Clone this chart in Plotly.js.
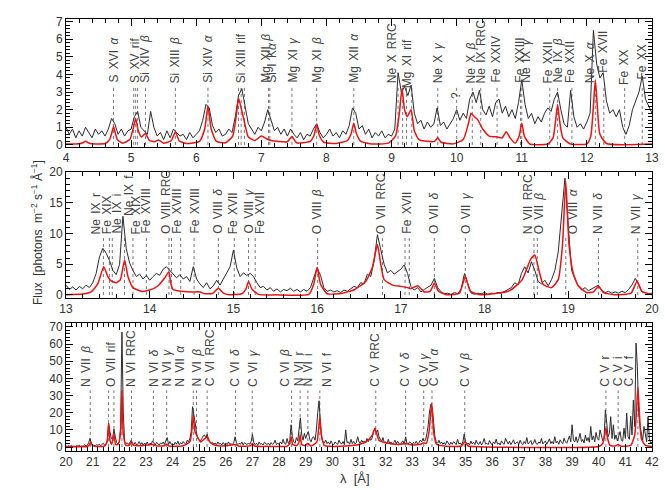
<!DOCTYPE html>
<html><head><meta charset="utf-8">
<script src="https://cdn.plot.ly/plotly-3.0.1.min.js"></script>
<style>html,body{margin:0;padding:0;background:#fff}#chart{width:665px;height:490px}</style>
</head><body><div id="chart"></div>
<script>
// ---------------- DATA ----------------
// Observed flux, panel 1: wavelength grid 4.00..13.00 step 0.05 Å
const p1Start = 4.0, p1Step = 0.05;
const p1Flux = [
 1.0,0.6,0.9,0.4,0.8,0.5,1.0,0.7,0.4,0.9,
 0.6,0.8,0.5,0.9,1.5,1.2,0.6,0.9,0.5,0.8,
 0.9,1.6,1.9,1.0,0.8,0.6,1.9,1.0,0.5,0.7,
 0.3,0.8,0.4,0.9,0.7,0.5,0.6,0.3,0.7,0.4,
 0.6,0.8,1.4,2.3,2.1,1.1,0.7,0.9,0.5,0.6,
 0.9,0.7,1.6,2.8,3.2,2.2,1.2,0.9,0.6,1.0,
 0.8,1.3,2.0,1.4,0.8,1.0,0.6,0.9,0.5,0.9,
 0.6,0.4,0.7,0.3,0.6,0.5,0.9,1.2,0.7,0.4,
 0.6,0.9,0.5,0.7,0.4,0.8,0.6,1.1,2.1,1.8,
 0.9,1.1,0.6,0.9,0.4,0.7,0.5,0.8,0.4,0.6,
 0.5,0.9,4.1,3.0,3.3,2.8,3.4,1.8,1.2,1.4,
 0.9,1.3,1.0,1.2,2.1,1.1,1.3,0.9,1.2,1.5,
 2.0,1.4,1.8,1.5,2.6,3.0,2.4,3.1,2.0,1.7,
 2.2,1.6,2.4,2.6,1.8,2.2,1.6,2.0,1.5,2.4,
 3.7,2.3,1.5,1.8,1.2,1.6,1.3,1.8,2.1,1.9,
 2.6,3.0,2.0,1.2,1.0,3.1,1.6,1.0,1.2,0.9,
 1.3,1.8,6.5,4.6,3.8,4.1,2.5,1.8,2.0,1.6,
 2.0,1.0,0.6,1.1,2.0,2.5,3.0,3.9,2.6,2.2,
 1.8];
// Observed flux, panel 2: grid 13.00..20.00 step 0.04 Å
const p2Start = 13.0, p2Step = 0.04;
const p2Flux = [
 1.6,0.9,1.3,0.8,1.4,1.0,1.6,1.2,2.0,3.5,
 6.2,7.6,6.8,5.6,4.0,3.3,5.0,12.8,7.5,5.2,
 4.0,3.0,3.4,2.6,3.2,2.4,3.0,3.5,3.2,4.2,
 4.6,4.0,3.4,2.8,3.3,2.6,3.0,2.2,4.6,2.6,
 1.8,1.2,2.0,1.0,1.5,2.4,1.6,2.5,3.6,4.6,
 7.3,4.4,3.0,3.6,3.2,3.5,3.0,2.0,1.2,1.4,
 0.8,1.2,0.6,1.0,0.5,0.9,0.7,1.1,0.6,0.9,
 0.5,0.9,0.6,1.2,3.0,4.4,3.2,1.2,0.6,0.8,
 0.5,0.7,0.4,0.8,0.6,1.0,1.4,1.2,2.0,1.8,
 3.4,3.0,5.5,9.8,7.6,5.0,3.6,4.0,3.4,3.8,
 4.2,4.9,3.5,1.4,0.8,1.2,0.5,0.9,1.2,1.6,
 2.7,1.2,0.5,0.2,0.3,0.1,0.4,0.2,1.0,3.5,
 1.8,0.3,0.1,0.3,0.2,0.4,0.1,0.3,0.2,0.4,
 0.3,0.6,0.8,1.2,2.0,1.6,3.5,4.6,3.6,5.4,
 4.0,2.2,1.8,2.4,1.5,2.5,4.0,7.0,13.0,19.0,
 11.0,4.0,2.6,1.4,0.8,1.2,0.7,1.0,1.4,1.6,
 0.8,0.4,0.6,0.3,0.5,0.3,0.6,0.4,0.9,1.6,
 2.7,1.8,0.5,0.3,0.2,
 0.3];
// Observed flux, panel 3: grid 20.00..42.00 step 0.05 Å
const p3Start = 20.0, p3Step = 0.05;
const p3Flux = [
 0.5,0.2,0.8,0.3,1.0,0.4,0.6,0.2,0.9,0.5,1.2,0.3,0.7,0.4,1.5,0.6,1.0,2.5,5.0,2.0,
 0.8,1.2,0.6,1.5,0.9,1.8,0.7,1.4,2.2,1.1,1.6,3.0,14.0,9.0,5.0,4.5,10.5,6.0,2.5,1.8,
 3.0,12.0,67.0,20.0,3.0,2.0,2.5,1.5,3.0,4.0,2.2,1.5,2.8,1.2,2.0,3.2,1.4,2.6,1.0,2.4,
 1.6,3.0,1.2,2.2,1.8,3.6,2.5,1.0,2.8,1.6,1.2,2.4,1.8,3.0,1.4,4.0,5.5,1.5,3.2,1.6,
 2.0,1.2,2.8,1.6,3.4,1.4,2.6,1.8,3.2,2.2,1.6,4.0,3.0,5.0,9.0,23.5,17.0,14.0,8.0,5.0,
 4.0,3.5,5.0,6.5,7.0,5.5,7.5,4.0,3.0,2.2,2.8,1.6,2.4,1.4,3.0,1.8,2.2,1.2,2.6,1.5,
 2.4,1.4,3.0,1.6,2.0,1.2,2.8,6.0,2.4,1.4,2.2,1.6,3.0,1.2,2.6,1.8,1.4,2.4,1.6,3.2,
 7.4,2.6,1.4,2.2,1.0,3.0,1.6,2.0,1.2,2.8,1.8,1.4,2.4,1.0,2.6,1.6,2.0,4.0,1.4,2.2,
 1.6,3.0,1.8,4.5,2.2,1.6,5.0,2.0,3.5,13.0,6.0,3.0,2.2,5.5,3.6,9.0,17.0,7.0,4.0,8.0,
 5.0,7.5,9.0,4.5,3.0,5.5,6.0,4.0,10.0,20.0,27.0,14.0,5.0,3.0,2.5,4.0,2.0,3.0,1.6,3.6,
 2.0,1.4,3.0,2.2,1.6,4.0,2.4,1.8,3.2,1.4,10.0,2.6,3.0,1.6,4.5,2.0,3.4,1.8,2.6,6.0,
 3.0,2.2,4.0,2.8,3.6,2.4,5.0,3.2,4.6,4.0,5.6,9.0,11.0,8.0,10.0,6.0,4.0,3.0,5.5,2.4,
 3.0,1.8,4.5,2.2,3.0,1.6,2.6,4.0,1.8,3.4,2.0,1.4,2.8,3.6,1.6,6.0,2.2,1.8,3.0,2.4,
 1.6,2.8,2.0,3.4,1.8,2.6,4.0,3.0,5.0,3.5,4.0,8.0,13.0,21.0,25.0,23.0,13.0,6.0,3.0,2.2,
 4.0,2.0,3.0,1.6,2.6,1.4,3.6,2.0,1.2,2.8,1.6,3.2,2.0,1.4,4.5,1.8,2.4,1.2,3.0,7.6,
 3.0,1.6,2.4,1.2,3.5,1.8,2.8,1.4,4.0,2.0,1.6,3.2,1.2,2.6,5.0,1.8,2.2,1.4,3.8,2.0,
 1.4,3.0,2.0,4.6,1.6,2.4,1.2,3.6,2.2,1.6,5.0,2.8,1.8,3.4,1.4,2.6,4.2,1.8,2.4,3.0,
 1.6,4.0,2.2,1.4,3.2,2.0,5.5,1.8,2.6,3.8,1.4,2.4,4.4,2.0,1.6,3.0,2.2,5.0,1.8,2.6,
 3.6,1.6,2.8,4.8,2.0,3.2,1.8,6.0,2.4,3.4,1.6,4.2,2.8,2.0,5.2,3.0,2.2,4.0,6.5,3.0,
 13.0,4.0,3.0,6.0,2.6,5.0,8.0,3.2,4.4,2.4,7.0,3.6,5.5,2.8,12.0,4.2,6.5,3.0,8.5,5.0,
 4.0,10.0,6.0,3.6,5.0,21.6,14.0,6.0,8.0,17.7,5.0,13.0,4.5,7.0,3.6,6.0,9.0,4.0,3.4,11.0,
 5.0,19.8,6.0,4.5,18.0,7.0,27.4,12.0,60.6,46.9,20.0,12.0,7.0,4.0,12.0,6.0,3.0,17.7,5.0,2.0,
 3.0];

// Model (red) – wavelength / flux pairs
const p1ModelWave = [4.0,4.2,4.26,4.3,4.34,4.4,4.6,4.67,4.705,4.73,4.755,4.79,4.87,4.98,5.03,5.07,5.11,5.16,5.22,5.28,5.36,5.42,5.5,5.62,5.68,5.74,5.85,6.05,6.13,6.18,6.23,6.31,6.45,6.56,6.62,6.65,6.69,6.74,6.8,6.9,7.0,7.08,7.15,7.25,7.4,7.47,7.54,7.75,7.81,7.85,7.89,7.96,8.15,8.32,8.38,8.42,8.46,8.53,8.7,8.95,9.06,9.12,9.16,9.2,9.24,9.3,9.35,9.42,9.55,9.66,9.71,9.76,9.95,10.1,10.18,10.22,10.27,10.32,10.4,10.5,10.62,10.7,10.76,10.82,10.9,10.96,11.0,11.04,11.12,11.4,11.48,11.52,11.55,11.58,11.63,11.75,12.0,12.06,12.1,12.13,12.16,12.2,12.3,13.0];
const p1Model =     [0.05,0.06,0.12,0.2,0.12,0.06,0.08,0.3,0.7,1.05,0.7,0.3,0.1,0.3,0.9,1.5,0.8,0.45,0.65,0.25,0.18,0.28,0.1,0.25,0.75,0.22,0.08,0.2,0.9,2.2,0.9,0.2,0.12,0.5,1.8,2.65,2.1,1.3,0.45,0.25,0.5,0.35,0.25,0.2,0.18,0.47,0.12,0.2,0.55,1.14,0.55,0.15,0.08,0.25,0.65,1.23,0.65,0.2,0.05,0.1,0.5,1.8,3.2,2.0,1.6,2.0,0.8,0.3,0.2,0.2,0.4,0.15,0.06,0.3,1.2,1.8,1.6,1.45,0.9,0.5,0.45,0.4,0.75,0.4,0.1,0.5,1.23,0.5,0.06,0.05,0.4,1.4,2.3,1.4,0.4,0.05,0.06,0.5,2.2,3.7,2.2,0.6,0.08,0.05];
const p2ModelWave = [13.0,13.2,13.3,13.38,13.45,13.5,13.54,13.6,13.65,13.7,13.74,13.8,13.9,14.0,14.1,14.18,14.23,14.25,14.28,14.35,14.5,14.6,14.66,14.75,14.82,14.88,14.95,15.1,15.15,15.18,15.22,15.3,15.5,15.9,15.96,16.0,16.04,16.12,16.3,16.45,16.58,16.66,16.72,16.76,16.8,16.9,17.0,17.08,17.12,17.2,17.28,17.35,17.4,17.45,17.55,17.7,17.77,17.83,17.95,18.1,18.3,18.45,18.55,18.6,18.65,18.7,18.8,18.88,18.93,18.97,19.01,19.06,19.12,19.22,19.3,19.36,19.42,19.55,19.75,19.82,19.88,20.0];
const p2Model =     [0.05,0.15,0.5,1.8,4.6,3.0,2.3,2.0,2.5,5.7,3.0,1.2,0.6,0.8,1.5,2.8,3.8,2.0,0.9,0.65,0.5,0.5,0.2,0.25,1.1,0.3,0.05,0.2,1.0,2.2,1.0,0.1,0.02,0.1,1.8,4.5,1.8,0.2,0.3,0.9,2.2,4.5,8.2,5.0,2.5,1.6,1.4,1.2,1.05,1.5,0.5,0.6,1.9,0.6,0.05,0.3,3.0,0.6,0.05,0.2,0.7,2.5,5.8,6.5,4.0,1.7,1.2,2.5,8.0,18.5,8.0,3.5,1.5,0.4,0.5,1.4,0.4,0.05,0.3,2.2,0.6,0.05];
const p3ModelWave = [20.0,20.8,20.88,20.93,20.98,21.1,21.45,21.55,21.6,21.65,21.72,21.8,21.86,21.95,22.05,22.1,22.15,22.25,22.38,22.45,22.52,22.8,23.28,23.4,23.7,23.78,23.86,24.4,24.65,24.72,24.78,24.84,24.92,25.05,25.22,25.3,25.4,25.6,26.0,26.36,26.5,26.93,27.0,27.08,27.5,28.3,28.4,28.45,28.51,28.65,28.74,28.79,28.85,28.98,29.08,29.2,29.42,29.48,29.53,29.58,29.7,29.9,30.5,31.0,31.3,31.5,31.6,31.66,31.75,32.0,32.5,32.75,33.0,33.35,33.43,33.52,33.63,33.73,33.8,33.9,34.2,34.85,34.97,35.1,35.5,40.0,40.15,40.22,40.27,40.32,40.42,40.62,40.73,40.84,41.2,41.35,41.42,41.47,41.52,41.6,41.75,42.0];
const p3Model =     [0.3,0.3,1.2,3.1,1.2,0.4,0.6,4.0,13.8,4.0,1.6,8.0,1.5,1.5,8.0,33.0,8.0,1.0,1.0,3.0,1.2,0.8,1.5,0.6,0.8,1.8,0.6,0.8,3.0,9.0,18.7,9.0,6.5,3.0,5.0,6.0,3.0,1.0,0.7,1.5,0.5,0.8,2.1,0.6,0.4,0.5,2.0,6.0,1.5,0.8,2.5,7.0,1.5,0.8,2.1,0.6,3.0,10.0,17.7,8.0,1.0,0.4,0.6,1.5,3.5,7.0,11.0,8.0,4.0,2.5,1.5,2.0,1.2,1.8,2.5,2.0,9.0,25.5,9.0,1.8,0.6,0.6,3.1,0.6,0.2,0.3,2.0,7.0,11.0,6.0,1.0,0.6,1.5,0.5,1.0,7.0,22.0,34.8,22.0,5.0,1.0,0.3];

// Line identifications (rest wavelengths, Å) and their labels
const p1Lines = [4.73,5.04,5.07,5.10,5.22,5.68,6.18,6.65,6.69,6.74,7.11,7.13,7.47,7.85,8.42,9.10,9.17,9.23,9.31,9.71,10.0,10.24,10.37,10.62,10.98,11.0,11.43,11.55,11.77,12.13,12.26,12.58,12.85];
const p1LabelText = ['S XVI α','S XV rif','Si XIV β','Si XIII β','Si XIV α','Si XIII rif','Mg XII β','Si I Kα','Mg XI γ','Mg XI β','Mg XII α','Ne X RRC','Mg XI rif','Ne X γ','?','Ne X β','Ne IX RRC','Fe XXIV','Fe XXIII','Ne IX γ','Fe XXII','Ne IX β','Fe XXII','Ne X α','Fe XVII','Fe XX','Fe XX'];
const p2Lines = [13.447,13.518,13.553,13.699,13.80,13.96,14.23,14.26,14.37,14.53,14.82,15.01,15.18,15.26,16.006,16.78,17.05,17.10,17.40,17.77,18.59,18.63,18.97,19.36,19.83];
const p2LabelText = ['Ne IX r','Fe XIX','Ne IX i','Ne IX f','Fe XIX','Fe XVIII','O VIII RRC','Fe XVIII','Fe XVIII','O VIII δ','Fe XVII','O VIII γ','Fe XVII','O VIII β','O VII RRC','Fe XVII','O VII δ','O VII γ','N VII RRC','O VII β','O VIII α','N VII δ','N VII γ'];
const p3Lines = [20.91,21.60,21.80,22.10,22.46,23.28,23.78,24.78,24.90,25.30,26.36,26.99,28.47,28.79,29.08,29.53,31.63,32.75,33.43,33.74,34.97,40.27,40.73,41.47];
const p3LabelText = ['N VII β','O VII rif','N VI RRC','N VI δ','N VI γ','N VII α','N VI β','C VI RRC','C VI δ','C VI γ','C VI β','N VI r','N VI i','N VI f','C V RRC','C V δ','C V γ','C VI α','C V β','C V r','C V i','C V f'];

// ---------------- LABEL PLACEMENT (layout, not data) ----------------
const p1LabelPos = [4.73,5.05,5.21,5.68,6.17,6.69,7.06,7.15,7.48,7.85,8.42,9.01,9.23,9.71,10.0,10.22,10.38,10.59,10.96,11.06,11.41,11.55,11.74,12.05,12.25,12.58,12.84];
const p1LabelBase = [3.4,3.4,3.4,3.4,3.4,3.4,3.4,3.4,3.4,3.4,3.4,3.4,3.1,3.4,2.5,3.4,3.4,3.4,3.4,3.4,3.4,3.4,3.4,3.4,4.0,3.3,3.6];
const p2LabelPos = [13.358,13.498,13.605,13.745,13.836,13.956,14.195,14.33,14.541,14.82,14.999,15.186,15.318,16.007,16.772,17.07,17.397,17.779,18.523,18.655,19.061,19.36,19.818];
const p2LabelBase = p2LabelPos.map((_,i)=> i===3 ? 12.5 : 9.6);
const p3LabelPos = [20.776,21.715,22.466,23.28,23.78,24.28,24.906,25.406,26.345,26.996,28.222,28.748,29.098,29.824,31.60,32.727,33.415,33.816,34.954,40.26,40.71,41.15];
const p3LabelBase = p3LabelPos.map(()=>34);

// ---------------- BUILD ----------------
const FONT = 'Liberation Sans, Arial, Helvetica, sans-serif';
const grid = (start, step, n) => Array.from({length:n}, (_,k)=> +(start + k*step).toFixed(3));
// wide word spacing like the original plotting font, italic Greek letters
const fmt = s => s.replace(/ /g, '\u00a0\u2006').replace(/([αβγδ])/g, '<i>$1</i>');

const panels = [
  {flux:p1Flux, x0:p1Start, dx:p1Step, mw:p1ModelWave, mv:p1Model, lines:p1Lines, lt:p1LabelText, lp:p1LabelPos, lb:p1LabelBase, lineTop:3.3,
   xr:[4,13], yr:[-0.12,7.15], ydt:1, ymn:0.2, dom:[0.7037,1]},
  {flux:p2Flux, x0:p2Start, dx:p2Step, mw:p2ModelWave, mv:p2Model, lines:p2Lines, lt:p2LabelText, lp:p2LabelPos, lb:p2LabelBase, lineTop:9.3,
   xr:[13,20], yr:[-0.5,20.0], ydt:5, ymn:1, dom:[0.354,0.6458]},
  {flux:p3Flux, x0:p3Start, dx:p3Step, mw:p3ModelWave, mv:p3Model, lines:p3Lines, lt:p3LabelText, lp:p3LabelPos, lb:p3LabelBase, lineTop:33,
   xr:[20,42], yr:[-2.3,72.3], ydt:10, ymn:2, dom:[0,0.2963]}
];

const traces = [], shapes = [], annotations = [];
const layout = {
  width:665, height:490, margin:{l:66, r:13, t:19, b:39},
  paper_bgcolor:'#fff', plot_bgcolor:'#fff', showlegend:false,
  font:{family:FONT, size:12, color:'#333'}
};

panels.forEach((p,i)=>{
  const s = i===0 ? '' : String(i+1);
  const xa = 'x'+s, ya = 'y'+s;
  traces.push({type:'scatter', mode:'lines', x:grid(p.x0,p.dx,p.flux.length), y:p.flux,
    xaxis:xa, yaxis:ya, line:{color:'#2b2b2b', width:1}, hoverinfo:'skip'});
  traces.push({type:'scatter', mode:'lines', x:p.mw, y:p.mv, xaxis:xa, yaxis:ya,
    line:{color:'#ee1111', width:1.5, shape:'spline', smoothing:0.5}, hoverinfo:'skip'});
  p.lines.forEach(w=>{
    shapes.push({type:'line', xref:xa, yref:ya, x0:w, x1:w, y0:0, y1:p.lineTop,
      line:{color:'#777', width:1, dash:'dot'}, layer:'below'});
  });
  p.lt.forEach((t,k)=>{
    annotations.push({xref:xa, yref:ya, x:p.lp[k], y:p.lb[k], text:fmt(t), showarrow:false,
      textangle:-90, xanchor:'center', yanchor:'bottom', font:{family:FONT, size:12, color:'#444'}});
  });
  const axCommon = {showline:true, linecolor:'#000', linewidth:1, mirror:'allticks', ticks:'inside',
    ticklen:7, tickwidth:1, tickcolor:'#000', showgrid:false, zeroline:false,
    tickfont:{family:FONT, size:12, color:'#333'}};
  layout['xaxis'+s] = Object.assign({}, axCommon, {range:p.xr, dtick:1, tick0:0, anchor:ya,
    minor:{dtick:0.2, ticks:'inside', ticklen:4, tickcolor:'#000', showgrid:false}});
  layout['yaxis'+s] = Object.assign({}, axCommon, {range:p.yr, dtick:p.ydt, tick0:0, anchor:xa, domain:p.dom,
    minor:{dtick:p.ymn, ticks:'inside', ticklen:4, tickcolor:'#000', showgrid:false}});
});

annotations.push({xref:'paper', yref:'paper', x:0.493, y:-0.0625, text:'λ\u00a0\u00a0[Å]', showarrow:false,
  xanchor:'center', yanchor:'middle', font:{family:FONT, size:13, color:'#333'}});
annotations.push({xref:'paper', yref:'paper', x:-0.0495, y:0.507, textangle:-90,
  text:'Flux\u00a0\u00a0[photons\u00a0\u00a0m<sup>−2</sup>\u00a0s<sup>−1</sup>\u00a0Å<sup>−1</sup>]', showarrow:false,
  xanchor:'center', yanchor:'middle', font:{family:FONT, size:12, color:'#333'}});

layout.shapes = shapes;
layout.annotations = annotations;
Plotly.newPlot('chart', traces, layout, {staticPlot:true, displayModeBar:false});
</script>
</body></html>
